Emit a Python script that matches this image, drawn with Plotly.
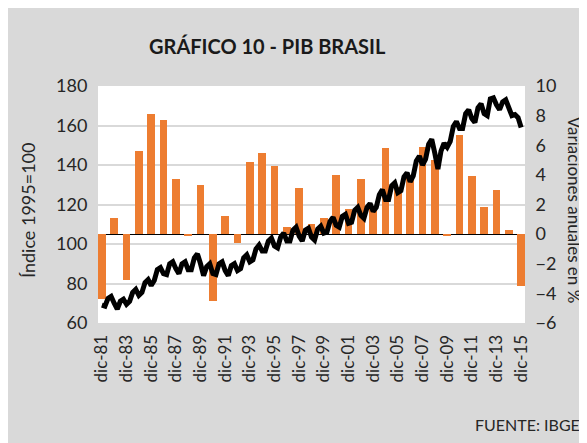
import plotly.graph_objects as go

# quarterly categories dic-81 ... dic-15
months = ["mar", "jun", "sep", "dic"]
quarters = ["dic-81"]
for yr in range(1982, 2016):
    for m in months:
        quarters.append(f"{m}-{yr % 100:02d}")

# annual labels (bars sit on december of each year)
years_lbl = [f"dic-{y % 100:02d}" for y in range(1981, 2016)]
tick_labels = [f"dic-{y % 100:02d}" for y in range(1981, 2016, 2)]

# PIB índice trimestral, 1995=100
pib_indice = [
    69,
    68.5, 72.5, 73.5, 70,
    67, 71, 72, 69.5,
    71, 75.5, 77, 74,
    75.5, 80.5, 82, 79,
    81.5, 87, 88, 85,
    84.5, 90, 91, 87.5,
    85, 90, 91, 87,
    87, 93, 95, 90,
    84, 88.5, 90, 85,
    84.5, 90, 91, 86.5,
    84, 89, 90, 86.5,
    87.5, 93, 94.5, 91,
    92, 97.5, 99.5, 96.5,
    96.5, 101.5, 103, 99,
    98, 103.5, 105.5, 101.5,
    101.5, 107, 108.5, 104,
    101.5, 107, 108, 103.5,
    102, 107.5, 109, 105.5,
    106, 111.5, 113.5, 109.5,
    108.5, 114, 115, 110.5,
    111, 117, 118.5, 114.5,
    113, 118.5, 120.5, 116.5,
    118.5, 125, 127.5, 122.5,
    122.5, 129.5, 131, 126,
    127, 134, 136, 131.5,
    134.5, 142, 144.5, 140,
    143, 150.5, 153, 146,
    138, 147, 151, 149,
    152, 159.5, 162, 158.5,
    158.5, 166, 168, 163.5,
    161.5, 169, 171, 166,
    165, 173.5, 174, 170.5,
    168, 172, 173, 169,
    165, 165.5, 164, 159,
]

# variación anual (%)
var_anual = [
    -4.4, 1.1, -3.1, 5.6, 8.1, 7.7, 3.7, -0.1, 3.3, -4.5,
    1.2, -0.6, 4.9, 5.5, 4.6, 0.5, 3.1, 0.7, 1.1, 4.0,
    1.7, 3.7, 1.8, 5.8, 3.2, 4.0, 5.9, 5.0, -0.1, 6.7,
    3.9, 1.8, 3.0, 0.3, -3.5,
]

FONT = "Lato"
GRIS = "#d9d9d9"

fig = go.Figure()
fig.add_trace(go.Bar(x=years_lbl, y=var_anual, width=2.5,
                     marker_color="#ED7D31", marker_line_width=0, yaxis="y"))
fig.add_trace(go.Scatter(x=quarters, y=pib_indice, mode="lines",
                         line=dict(color="black", width=5), yaxis="y2"))

fig.update_layout(
    width=587, height=443,
    margin=dict(l=90, r=70, t=78, b=128, autoexpand=False),
    paper_bgcolor=GRIS, plot_bgcolor="white",
    showlegend=False, bargap=0,
    font=dict(family=FONT, color="#262626"),
    xaxis=dict(type="category", categoryorder="array", categoryarray=quarters,
               tickmode="array", tickvals=tick_labels, ticktext=tick_labels,
               tickangle=-90, tickfont=dict(size=17), showgrid=False,
               ticks="outside", ticklen=4, tickcolor="rgba(0,0,0,0)",
               showline=False, zeroline=False, automargin=False),
    yaxis=dict(side="right", range=[-6, 10], dtick=2, showgrid=False,
               zeroline=True, zerolinecolor="black", zerolinewidth=1,
               tickfont=dict(size=18), ticks="outside", ticklen=6,
               tickcolor="rgba(0,0,0,0)", showline=False, automargin=False),
    yaxis2=dict(overlaying="y", side="left", range=[60, 180], dtick=20,
                showgrid=True, gridcolor=GRIS, gridwidth=1.5, zeroline=False,
                tickfont=dict(size=18), ticks="outside", ticklen=6,
                tickcolor="rgba(0,0,0,0)", showline=False, automargin=False),
)

fig.add_annotation(text="<b>GRÁFICO 10 - PIB BRASIL</b>", xref="paper", yref="paper",
                   x=0.396, y=1.169, showarrow=False, font=dict(size=20, color="#1a1a1a"),
                   xanchor="center", yanchor="middle")
fig.add_annotation(text="Índice 1995=100", xref="paper", yref="paper",
                   x=-0.164, y=0.477, textangle=-90, showarrow=False,
                   font=dict(size=18), xanchor="center", yanchor="middle")
fig.add_annotation(text="Variaciones anuales en %", xref="paper", yref="paper",
                   x=1.115, y=0.477, textangle=90, showarrow=False,
                   font=dict(size=17), xanchor="center", yanchor="middle")
fig.add_annotation(text="FUENTE: IBGE", xref="paper", yref="paper",
                   x=1.134, y=-0.43, showarrow=False, font=dict(size=16),
                   xanchor="right", yanchor="middle")

fig.write_html("out.html")
